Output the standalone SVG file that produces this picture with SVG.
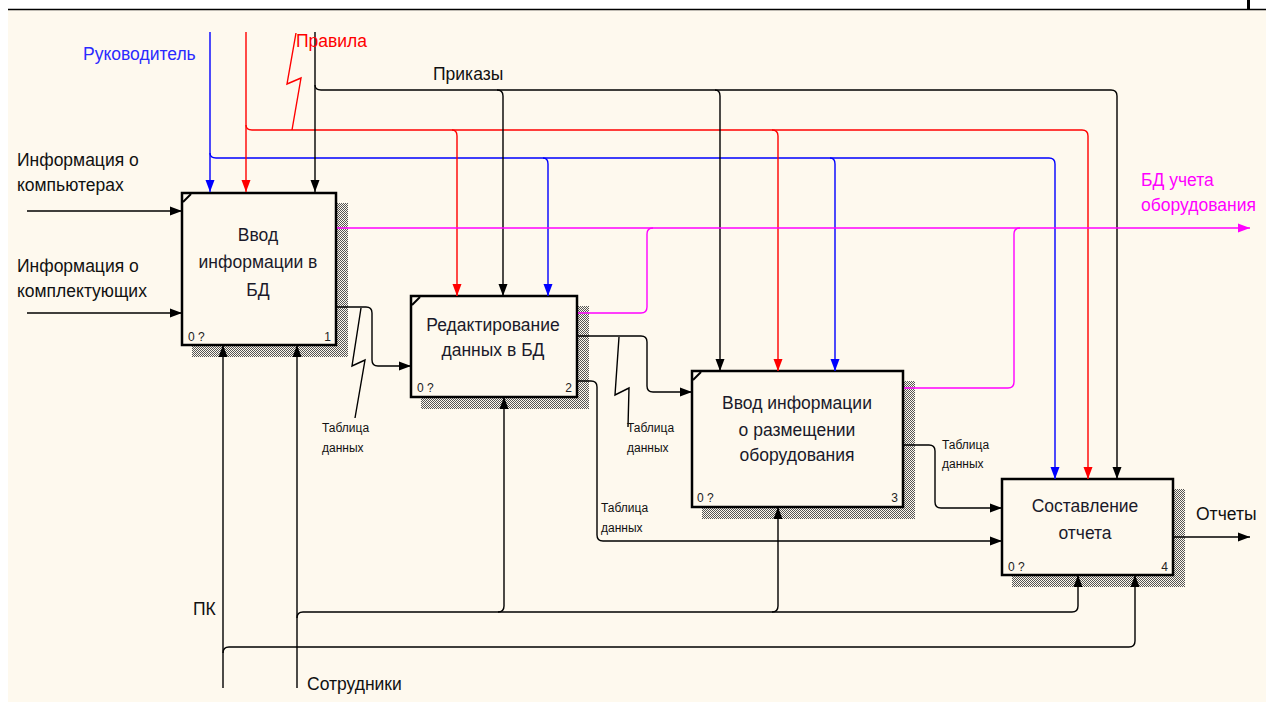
<svg xmlns="http://www.w3.org/2000/svg" width="1266" height="702" viewBox="0 0 1266 702">
<defs>
<style>
.bg{fill:#FEF9EE}
.box{fill:#FEF9EE;stroke:#000;stroke-width:2.5}
.shadow{fill:url(#hatch)}
.ln{fill:none;stroke:#000;stroke-width:1.4}
.red{fill:none;stroke:#FF0000;stroke-width:1.4}
.blue{fill:none;stroke:#0000FF;stroke-width:1.4}
.mag{fill:none;stroke:#FF00FF;stroke-width:1.4}
.t{font-family:"Liberation Sans",Arial,sans-serif;font-size:17.5px;fill:#111}
.bt{font-family:"Liberation Sans",Arial,sans-serif;font-size:17.5px;fill:#1a1a2a;text-anchor:middle}
.s{font-family:"Liberation Sans",Arial,sans-serif;font-size:12px;fill:#111}
.n{font-family:"Liberation Sans",Arial,sans-serif;font-size:12px;fill:#222}
</style>
<pattern id="hatch" width="2" height="2" patternUnits="userSpaceOnUse">
<rect width="1" height="1" fill="#555"/>
<rect x="1" y="1" width="1" height="1" fill="#555"/>
</pattern>
<marker id="ak" viewBox="0 0 12 10" refX="12" refY="5" markerWidth="12" markerHeight="10" markerUnits="userSpaceOnUse" orient="auto"><path d="M0,0.5 L12,5 L0,9.5 z" fill="#000"/></marker>
<marker id="ar" viewBox="0 0 12 10" refX="12" refY="5" markerWidth="12" markerHeight="10" markerUnits="userSpaceOnUse" orient="auto"><path d="M0,0.5 L12,5 L0,9.5 z" fill="#FF0000"/></marker>
<marker id="ab" viewBox="0 0 12 10" refX="12" refY="5" markerWidth="12" markerHeight="10" markerUnits="userSpaceOnUse" orient="auto"><path d="M0,0.5 L12,5 L0,9.5 z" fill="#0000FF"/></marker>
<marker id="am" viewBox="0 0 12 10" refX="12" refY="5" markerWidth="12" markerHeight="10" markerUnits="userSpaceOnUse" orient="auto"><path d="M0,0.5 L12,5 L0,9.5 z" fill="#FF00FF"/></marker>
</defs>
<rect x="0" y="0" width="1266" height="702" fill="#FFFFFF"/>
<rect class="bg" x="8" y="10" width="1258" height="692"/>
<line x1="8" y1="9.5" x2="1266" y2="9.5" stroke="#000" stroke-width="1.5"/>
<rect x="1247" y="0" width="3" height="10" fill="#000"/>

<g id="node1">
<rect class="shadow" x="192" y="203" width="156" height="154"/>
<rect class="box" x="182" y="193" width="154" height="152"/>
<path d="M183,202 L191,194" stroke="#000" stroke-width="2"/>
<text class="bt" x="258" y="241">Ввод</text>
<text class="bt" x="258" y="268">информации в</text>
<text class="bt" x="258" y="296">БД</text>
<text class="n" x="188" y="341">0 ?</text>
<text class="n" x="331" y="341" text-anchor="end">1</text>
</g>

<g id="node2">
<rect class="shadow" x="421" y="306" width="168" height="103"/>
<rect class="box" x="411" y="296" width="166" height="101"/>
<path d="M412,305 L420,297" stroke="#000" stroke-width="2"/>
<text class="bt" x="493" y="331">Редактирование</text>
<text class="bt" x="493" y="356">данных в БД</text>
<text class="n" x="417" y="392">0 ?</text>
<text class="n" x="572" y="392" text-anchor="end">2</text>
</g>

<g id="node3">
<rect class="shadow" x="702" y="381" width="213" height="138"/>
<rect class="box" x="692" y="371" width="211" height="136"/>
<path d="M693,380 L701,372" stroke="#000" stroke-width="2"/>
<text class="bt" x="797" y="409">Ввод информации</text>
<text class="bt" x="797" y="436">о размещении</text>
<text class="bt" x="797" y="461">оборудования</text>
<text class="n" x="697" y="502">0 ?</text>
<text class="n" x="898" y="502" text-anchor="end">3</text>
</g>

<g id="node4">
<rect class="shadow" x="1012" y="489" width="173" height="98"/>
<rect class="box" x="1002" y="479" width="171" height="96"/>
<text class="bt" x="1085" y="512">Составление</text>
<text class="bt" x="1085" y="539">отчета</text>
<text class="n" x="1008" y="571">0 ?</text>
<text class="n" x="1168" y="571" text-anchor="end">4</text>
</g>

<g id="connectors">
<path class="ln" d="M27,211 H182" marker-end="url(#ak)"/>
<path class="ln" d="M27,313 H182" marker-end="url(#ak)"/>
<path class="blue" d="M210,32 V192" marker-end="url(#ab)"/>
<path class="blue" d="M210,153 Q210,158 216,158 H1049 Q1055,158 1055,164 V479" marker-end="url(#ab)"/>
<path class="blue" d="M543,158 Q548,158 548,164 V296" marker-end="url(#ab)"/>
<path class="blue" d="M830,158 Q835,158 835,164 V371" marker-end="url(#ab)"/>
<path class="red" d="M246,32 V192" marker-end="url(#ar)"/>
<path class="red" d="M246,125 Q246,130 252,130 H1082 Q1088,130 1088,136 V479" marker-end="url(#ar)"/>
<path class="red" d="M452,130 Q457,130 457,136 V296" marker-end="url(#ar)"/>
<path class="red" d="M772,130 Q778,130 778,136 V371" marker-end="url(#ar)"/>
<path class="red" d="M296,33 L287,84 L301,78 L292,130"/>
<path class="ln" d="M315,32 V192" marker-end="url(#ak)"/>
<path class="ln" d="M315,85 Q315,90 321,90 H1111 Q1117,90 1117,96 V479" marker-end="url(#ak)"/>
<path class="ln" d="M497,90 Q503,90 503,96 V296" marker-end="url(#ak)"/>
<path class="ln" d="M715,90 Q720,90 720,96 V371" marker-end="url(#ak)"/>
<path class="mag" d="M337,228 H1250" marker-end="url(#am)"/>
<path class="mag" d="M578,313 H641 Q647,313 647,307 V234 Q647,228 653,228"/>
<path class="mag" d="M904,388 H1008 Q1014,388 1014,382 V234 Q1014,228 1020,228"/>
<path class="ln" d="M337,307 H366 Q372,307 372,313 V360 Q372,366 378,366 H411" marker-end="url(#ak)"/>
<path class="ln" d="M361,308 L352,366 L365,360 L355,418"/>
<path class="ln" d="M578,336 H641 Q647,336 647,342 V386 Q647,392 653,392 H692" marker-end="url(#ak)"/>
<path class="ln" d="M619,337 L615,395 L629,388 L628,427"/>
<path class="ln" d="M578,381 H591 Q597,381 597,387 V535 Q597,541 603,541 H1002" marker-end="url(#ak)"/>
<path class="ln" d="M904,445 H929 Q935,445 935,451 V502 Q935,508 941,508 H1002" marker-end="url(#ak)"/>
<path class="ln" d="M1174,537 H1250" marker-end="url(#ak)"/>
<path class="ln" d="M223,688 V345" marker-end="url(#ak)"/>
<path class="ln" d="M223,653 Q223,647 229,647 H1129 Q1135,647 1135,641 V575" marker-end="url(#ak)"/>
<path class="ln" d="M297,688 V345" marker-end="url(#ak)"/>
<path class="ln" d="M297,618 Q297,612 303,612 H1072 Q1078,612 1078,606 V575" marker-end="url(#ak)"/>
<path class="ln" d="M498,612 Q504,612 504,606 V397" marker-end="url(#ak)"/>
<path class="ln" d="M772,612 Q778,612 778,606 V507" marker-end="url(#ak)"/>
</g>

<g id="labels">
<text class="t" x="83" y="60" style="fill:#2a2aff">Руководитель</text>
<text class="t" x="296" y="47" style="fill:#FF0000">Правила</text>
<text class="t" x="433" y="80">Приказы</text>
<text class="t" x="17" y="166">Информация о</text>
<text class="t" x="17" y="191">компьютерах</text>
<text class="t" x="17" y="272">Информация о</text>
<text class="t" x="17" y="297">комплектующих</text>
<text class="t" x="1141" y="186" style="fill:#FF00FF">БД учета</text>
<text class="t" x="1141" y="211" style="fill:#FF00FF">оборудования</text>
<text class="t" x="1196" y="520">Отчеты</text>
<text class="t" x="193" y="615">ПК</text>
<text class="t" x="307" y="690">Сотрудники</text>
<text class="s" x="322" y="432">Таблица</text>
<text class="s" x="322" y="452">данных</text>
<text class="s" x="627" y="432">Таблица</text>
<text class="s" x="627" y="452">данных</text>
<text class="s" x="601" y="512">Таблица</text>
<text class="s" x="601" y="532">данных</text>
<text class="s" x="942" y="449">Таблица</text>
<text class="s" x="942" y="468">данных</text>
</g>
</svg>
